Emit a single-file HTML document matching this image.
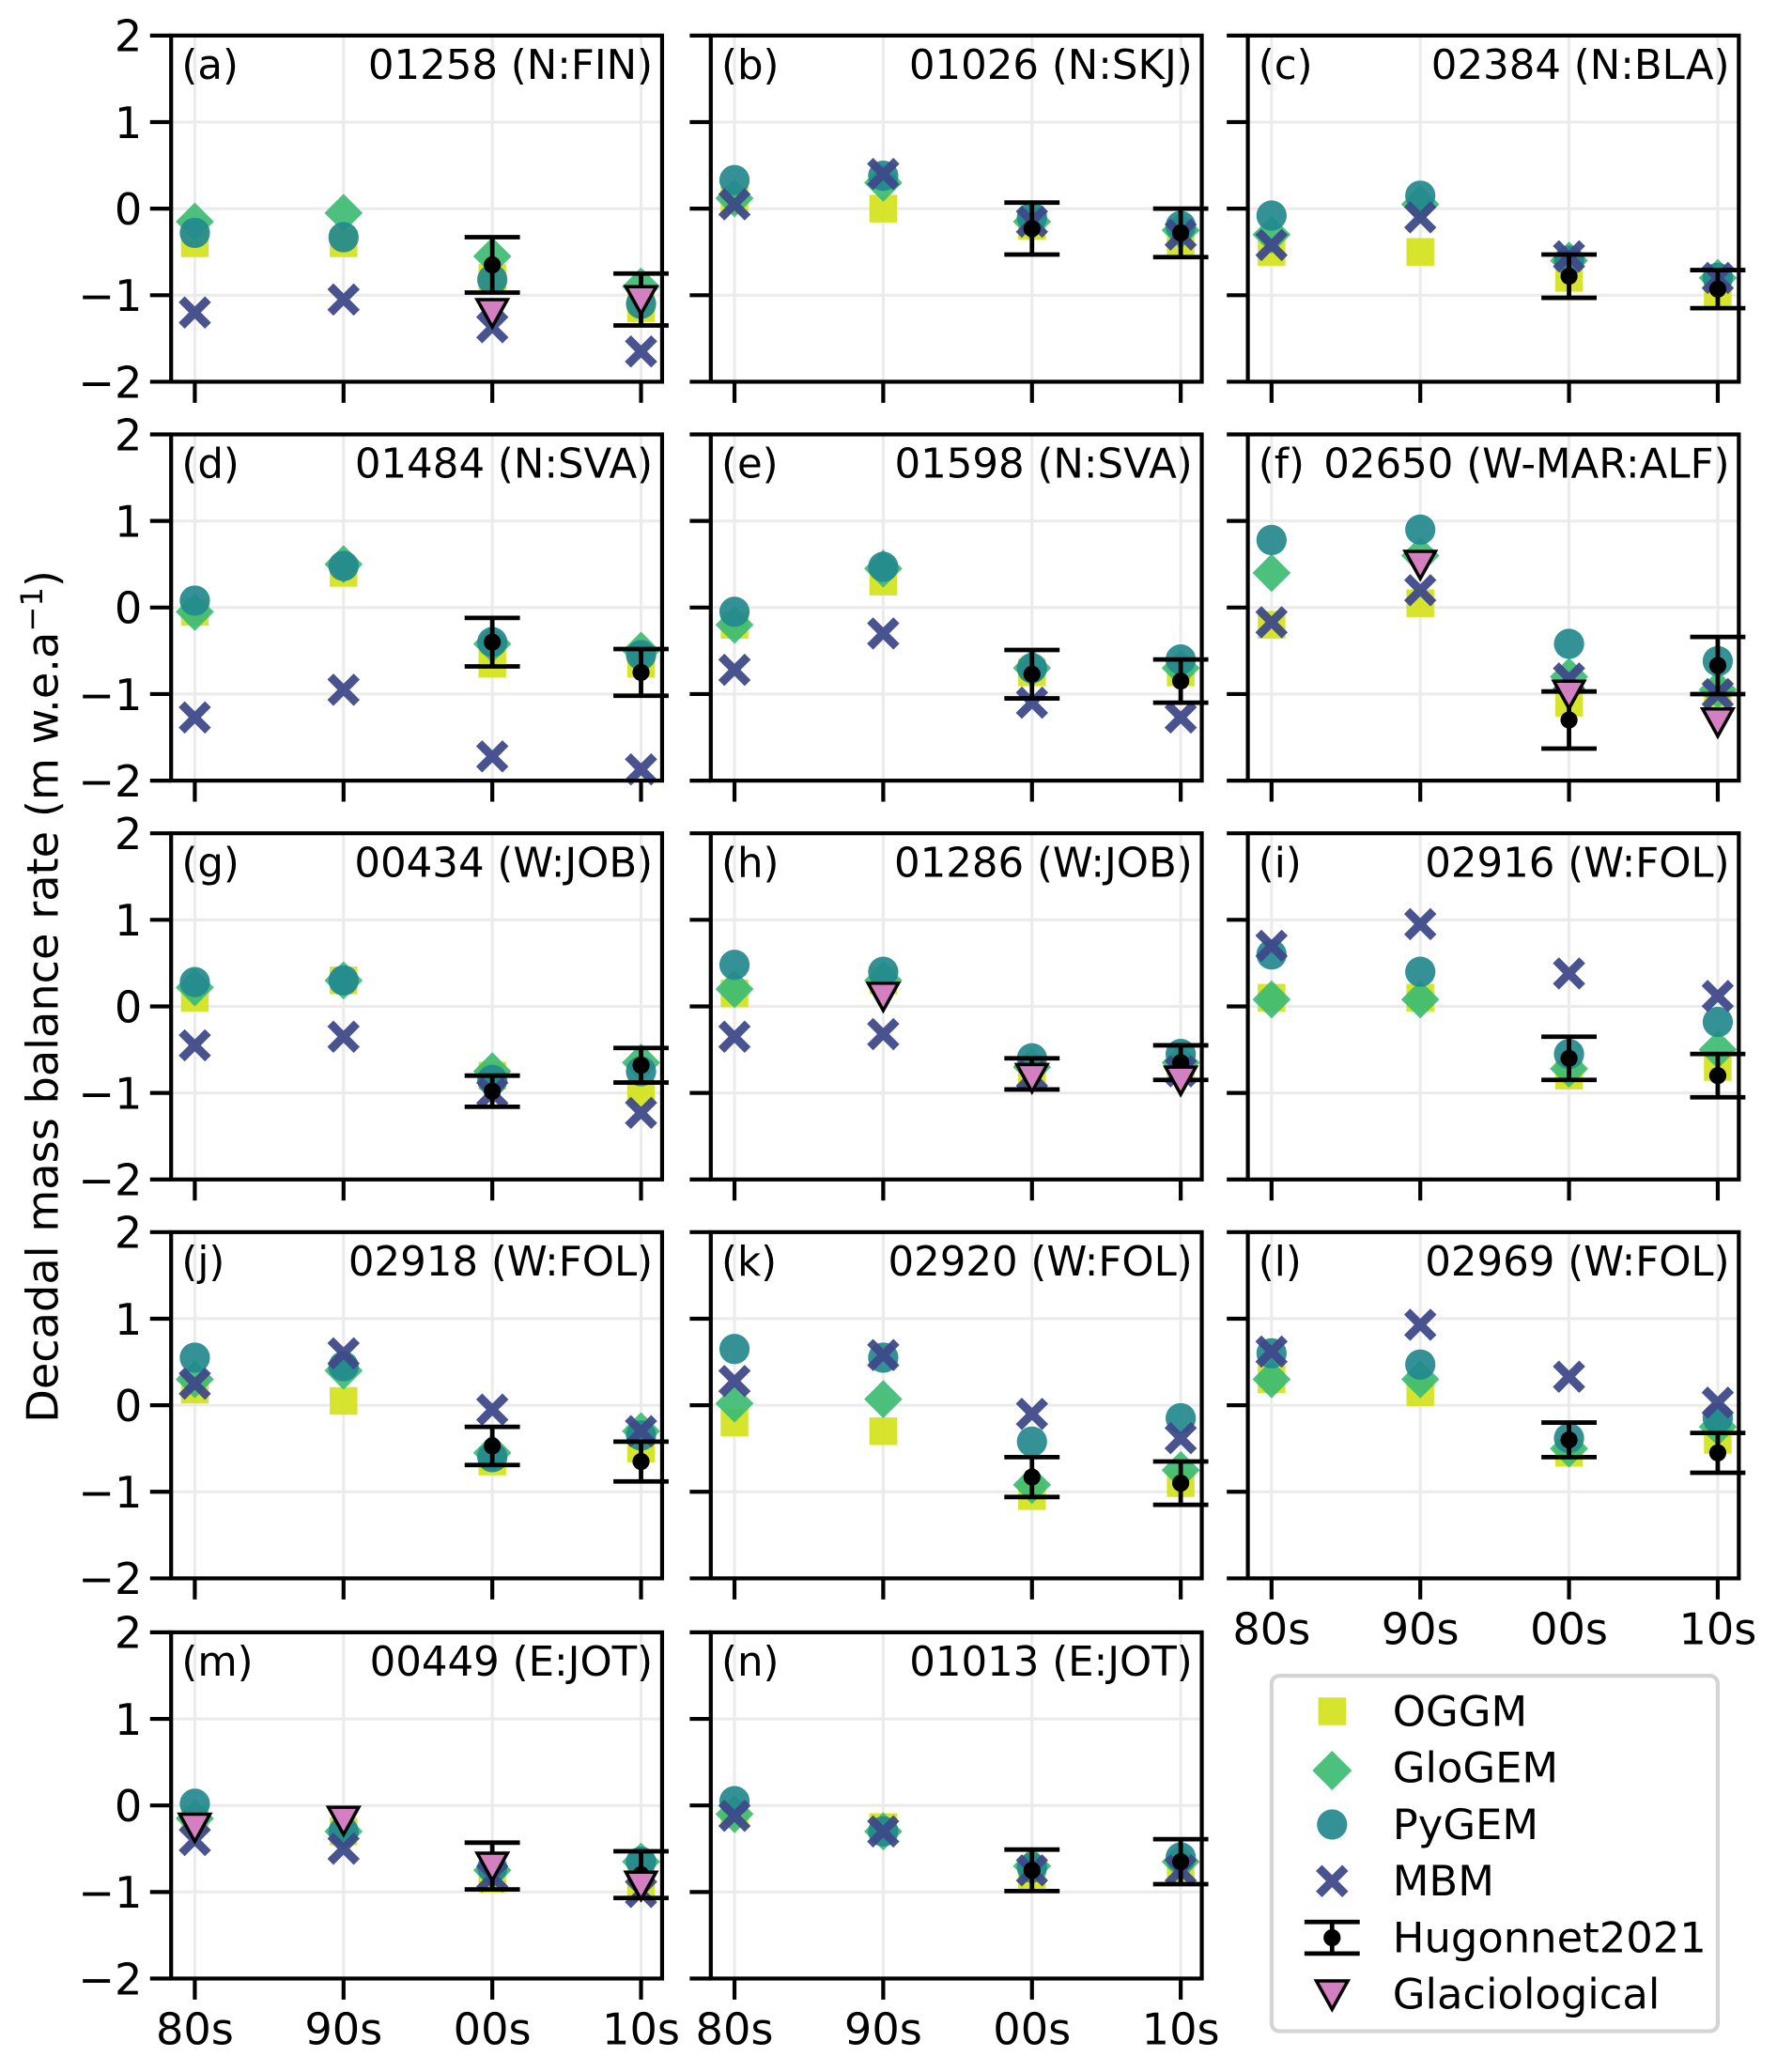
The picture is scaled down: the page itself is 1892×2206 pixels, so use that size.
<!DOCTYPE html>
<html><head><meta charset="utf-8"><style>
html,body{margin:0;padding:0;background:#fff;}
svg{display:block;font-family:"DejaVu Sans","Liberation Sans",sans-serif;}
</style></head><body>
<svg id="fig" width="1892" height="2206" viewBox="0 0 1350 1574" preserveAspectRatio="none" xmlns="http://www.w3.org/2000/svg">
<text transform="translate(44,757) rotate(-90)" text-anchor="middle" font-size="33">Decadal mass balance rate (m w.e.a<tspan dy="-12" font-size="23">−1</tspan><tspan dy="12">)</tspan></text>
<g id="panels"></g>
<g>
<rect x="966" y="1273" width="339" height="270" rx="6" fill="#fff" stroke="#d4d4d4" stroke-width="3"/>
<g id="legend-items"></g>
</g>
</svg>
<script>
const decades = ["80s","90s","00s","10s"];
const yTicks = [2,1,0,-1,-2];
const yTickLabels = ["2","1","0","−1","−2"];
const panelLetters = ["(a)","(b)","(c)","(d)","(e)","(f)","(g)","(h)","(i)","(j)","(k)","(l)","(m)","(n)"];
const panelTitles = ["01258 (N:FIN)","01026 (N:SKJ)","02384 (N:BLA)","01484 (N:SVA)","01598 (N:SVA)","02650 (W-MAR:ALF)","00434 (W:JOB)","01286 (W:JOB)","02916 (W:FOL)","02918 (W:FOL)","02920 (W:FOL)","02969 (W:FOL)","00449 (E:JOT)","01013 (E:JOT)"];
const N = null;
const oggm = [[-0.4,-0.4,-0.8,-1.15],[0.1,0.0,-0.2,-0.4],[-0.5,-0.5,-0.8,-1.0],[-0.05,0.4,-0.65,-0.65],[-0.2,0.3,-0.75,-0.75],[-0.2,0.05,-1.1,-1.0],[0.1,0.3,-0.8,-1.0],[0.15,0.3,-0.8,-0.7],[0.1,0.1,-0.8,-0.7],[0.18,0.05,-0.65,-0.5],[-0.2,-0.3,-1.05,-0.9],[0.3,0.15,-0.55,-0.4],[-0.15,-0.3,-0.85,-0.9],[-0.1,-0.25,-0.85,-0.75]];
const glogem = [[-0.15,-0.05,-0.55,-0.9],[0.12,0.3,-0.15,-0.25],[-0.3,0.05,-0.6,-0.8],[-0.05,0.5,-0.42,-0.5],[-0.2,0.45,-0.7,-0.7],[0.4,0.6,-0.8,-0.95],[0.22,0.3,-0.75,-0.65],[0.2,0.3,-0.7,-0.65],[0.08,0.08,-0.72,-0.5],[0.3,0.4,-0.55,-0.3],[0.02,0.07,-0.92,-0.75],[0.3,0.3,-0.5,-0.25],[-0.15,-0.3,-0.75,-0.65],[-0.1,-0.3,-0.7,-0.65]];
const pygem = [[-0.28,-0.33,-0.82,-1.1],[0.33,0.38,-0.1,-0.2],[-0.08,0.15,-0.6,-0.8],[0.08,0.48,-0.4,-0.55],[-0.05,0.47,-0.7,-0.6],[0.78,0.9,-0.42,-0.62],[0.28,0.3,-0.85,-0.75],[0.48,0.4,-0.6,-0.55],[0.6,0.4,-0.55,-0.18],[0.55,0.45,-0.6,-0.35],[0.65,0.55,-0.42,-0.15],[0.6,0.47,-0.38,-0.15],[0.02,-0.3,-0.72,-0.65],[0.05,-0.3,-0.72,-0.6]];
const mbm = [[-1.2,-1.05,-1.37,-1.65],[0.05,0.4,-0.15,-0.3],[-0.42,-0.1,-0.55,-0.8],[-1.27,-0.95,-1.72,-1.87],[-0.72,-0.3,-1.1,-1.27],[-0.17,0.2,-0.82,-1.0],[-0.45,-0.35,-1.0,-1.23],[-0.35,-0.32,-0.8,-0.75],[0.7,0.95,0.38,0.12],[0.25,0.6,-0.05,-0.3],[0.28,0.58,-0.1,-0.38],[0.62,0.93,0.33,0.03],[-0.4,-0.5,-0.82,-1.0],[-0.12,-0.3,-0.75,-0.75]];
const hugMean = [[N,N,-0.65,-1.05],[N,N,-0.23,-0.28],[N,N,-0.78,-0.93],[N,N,-0.4,-0.75],[N,N,-0.77,-0.85],[N,N,-1.3,-0.67],[N,N,-0.98,-0.68],[N,N,-0.78,-0.65],[N,N,-0.6,-0.8],[N,N,-0.47,-0.65],[N,N,-0.83,-0.9],[N,N,-0.4,-0.55],[N,N,-0.7,-0.8],[N,N,-0.75,-0.65]];
const hugErr = [[N,N,0.32,0.3],[N,N,0.3,0.28],[N,N,0.25,0.22],[N,N,0.28,0.27],[N,N,0.28,0.25],[N,N,0.33,0.33],[N,N,0.18,0.2],[N,N,0.18,0.2],[N,N,0.25,0.25],[N,N,0.22,0.23],[N,N,0.23,0.25],[N,N,0.2,0.23],[N,N,0.27,0.27],[N,N,0.24,0.26]];
const glac = [[N,N,-1.2,-1.05],[N,N,N,N],[N,N,N,N],[N,N,N,N],[N,N,N,N],[N,0.5,-1.0,-1.32],[N,N,N,N],[N,0.12,-0.82,-0.85],[N,N,N,N],[N,N,N,N],[N,N,N,N],[N,N,N,N],[-0.25,-0.17,-0.7,-0.92],[N,N,N,N]];

const NS="http://www.w3.org/2000/svg";
const C={oggm:"#d2e21b",glo:"#3dbb72",py:"#23898e",mbm:"#3e4a89",glac:"#d57fc3"};
const colL=[130,540,948], W=373, rowT=[27,330,633,936,1240], H=263;
function mk(tag,attrs,parent){const e=document.createElementNS(NS,tag);for(const k in attrs)e.setAttribute(k,attrs[k]);parent.appendChild(e);return e;}
function xScale(L,i){return L+18+i*113;}
function yScale(T,v){return T+(2-v)*H/4;}
function drawSquare(g,x,y,s){return mk('rect',{x:x-s/2,y:y-s/2,width:s,height:s,fill:C.oggm,'fill-opacity':0.92},g);}
function drawDiamond(g,x,y,s){return mk('polygon',{points:`${x},${y-s} ${x+s},${y} ${x},${y+s} ${x-s},${y}`,fill:C.glo,'fill-opacity':0.92},g);}
function drawCircle(g,x,y,r){return mk('circle',{cx:x,cy:y,r:r,fill:C.py,'fill-opacity':0.92},g);}
function drawX(g,x,y,s){return mk('path',{d:`M${x-s} ${y-s}L${x+s} ${y+s}M${x+s} ${y-s}L${x-s} ${y+s}`,stroke:C.mbm,'stroke-width':6.5,'stroke-opacity':0.95},g);}
function drawTri(g,x,y,s){return mk('polygon',{points:`${x-s} ${y-s*0.85},${x+s} ${y-s*0.85},${x} ${y+s*0.95}`,fill:C.glac,stroke:'#000','stroke-width':2.5,'stroke-linejoin':'miter'},g);}
function drawHug(g,x,yc,ylo,yhi){mk('path',{d:`M${x} ${yhi}V${ylo}M${x-21} ${yhi}H${x+21}M${x-21} ${ylo}H${x+21}`,stroke:'#000','stroke-width':3.4,fill:'none'},g);return mk('circle',{cx:x,cy:yc,r:6.5,fill:'#000'},g);}

const panelsG=document.getElementById('panels');
for(let p=0;p<14;p++){
  const r=Math.floor(p/3), c=p%3, L=colL[c], T=rowT[r];
  const g=mk('g',{},panelsG);
  
  
  yTicks.forEach(v=>{if(v>-2&&v<2){const gl=mk('line',{x1:L,x2:L+W,y1:yScale(T,v),y2:yScale(T,v),stroke:'#ebebeb','stroke-width':2.2},g);}});
  decades.forEach((d,i)=>{const gl=mk('line',{x1:xScale(L,i),x2:xScale(L,i),y1:T,y2:T+H,stroke:'#ebebeb','stroke-width':2.2},g);});
  yTicks.forEach((v,k)=>{
    const t=mk('line',{x1:L-16,x2:L,y1:yScale(T,v),y2:yScale(T,v),stroke:'#000','stroke-width':3},g);
    
    if(c===0){const tl=mk('text',{x:L-22,y:yScale(T,v)+12,'text-anchor':'end','font-size':33},g);tl.textContent=yTickLabels[k];
      }
  });
  decades.forEach((d,i)=>{
    const t=mk('line',{x1:xScale(L,i),x2:xScale(L,i),y1:T+H,y2:T+H+16,stroke:'#000','stroke-width':3},g);
    
    if(r===4||p===11){const tl=mk('text',{x:xScale(L,i),y:T+H+50,'text-anchor':'middle','font-size':33},g);tl.textContent=d;
      }
  });
  for(let i=0;i<4;i++){
    const x=xScale(L,i);
    if(oggm[p][i]!==null){const m=drawSquare(g,x,yScale(T,oggm[p][i]),21);}
    if(glogem[p][i]!==null){const m=drawDiamond(g,x,yScale(T,glogem[p][i]),14.5);}
    if(pygem[p][i]!==null){const m=drawCircle(g,x,yScale(T,pygem[p][i]),11.5);}
    if(mbm[p][i]!==null){const m=drawX(g,x,yScale(T,mbm[p][i]),10);}
    if(hugMean[p][i]!==null){const v=hugMean[p][i],e=hugErr[p][i];const m=drawHug(g,x,yScale(T,v),yScale(T,v-e),yScale(T,v+e));}
    if(glac[p][i]!==null){const m=drawTri(g,x,yScale(T,glac[p][i]),11.5);}
  }
  const fr=mk('rect',{x:L,y:T,width:W,height:H,fill:'none',stroke:'#000','stroke-width':3},g);
  
  const lt=mk('text',{x:L+8,y:T+33,'font-size':31},g);lt.textContent=panelLetters[p];
  
  const tt=mk('text',{x:L+W-7,y:T+33,'font-size':31,'text-anchor':'end'},g);tt.textContent=panelTitles[p];
  
}
const lg=document.getElementById('legend-items');
const legendNames=["OGGM","GloGEM","PyGEM","MBM","Hugonnet2021","Glaciological"];
legendNames.forEach((n,k)=>{
  const y=1300+k*43, x=1012;
  const g=mk('g',{},lg);
  
  
  if(k===0)drawSquare(g,x,y,21);
  if(k===1)drawDiamond(g,x,y+2,15);
  if(k===2)drawCircle(g,x,y,11.5);
  if(k===3)drawX(g,x,y,10);
  if(k===4)drawHug(g,x,y,y+12,y-12);
  if(k===5)drawTri(g,x,y,12);
  const t=mk('text',{x:1058,y:y+11,'font-size':32},g);t.textContent=n;
});
</script>
</body></html>
